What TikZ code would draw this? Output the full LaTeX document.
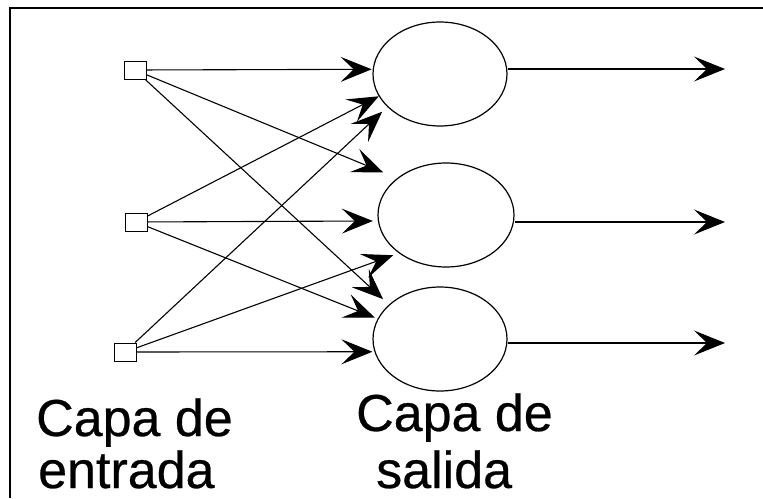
\documentclass[tikz,border=0pt]{standalone}
\usepackage{fontspec}
\setmainfont{Liberation Sans}
\newfontfamily\lblfont[FakeBold=0.5]{Liberation Sans}
\usetikzlibrary{arrows.meta,shapes.geometric}
\begin{document}
\begin{tikzpicture}[x=1pt,y=-1pt,
  neuron/.style={draw, ellipse, line width=1.2pt, minimum width=134pt, minimum height=104pt, inner sep=0pt},
  inbox/.style={draw, rectangle, line width=1pt, minimum width=22pt, minimum height=18pt, inner sep=0pt},
  conn/.style={line width=1.1pt, -{Stealth[length=31pt,width=25pt,inset=13pt]}},
  lbl/.style={font=\lblfont\fontsize{52}{52}\selectfont, anchor=base west, inner sep=0pt},
  framel/.style={line width=2.5pt}]
\useasboundingbox (0,0) rectangle (763,498);
\draw[framel] (10,498) -- (10,8) -- (763,8);
% input layer
\node[inbox] (s1) at (135,70) {};
\node[inbox] (s2) at (136,222) {};
\node[inbox] (s3) at (125,352) {};
% output layer
\node[neuron] (c1) at (440,74) {};
\node[neuron, minimum width=136pt] (c2) at (446,215) {};
\node[neuron] (c3) at (440,339) {};
% connections
\draw[conn, shorten >=1pt] (s1) -- (c1.176.6);
\draw[conn] (s2) -- (c1.200.2);
\draw[conn, shorten >=7pt] (s3) -- (c1.212.6);
\draw[conn, shorten >=15pt] (s1) -- (c2.143.6);
\draw[conn, shorten >=5pt] (s2) -- (c2.185.9);
\draw[conn, shorten >=6pt] (s3) -- (c2.219.3);
\draw[conn, shorten >=8pt] (s1) -- (c3.146.7);
\draw[conn, shorten >=3pt] (s2) -- (c3.162.3);
\draw[conn, shorten >=2pt] (s3) -- (c3.191.3);
% outputs
\coordinate (o1) at (725,69);
\coordinate (o2) at (725,222);
\coordinate (o3) at (725,343);
\draw[conn] (o1 -| c1.east) -- (o1);
\draw[conn] (o2 -| c2.east) -- (o2);
\draw[conn] (o3 -| c3.east) -- (o3);
% labels
\node[lbl] (l1) at (36,436) {Capa de};
\node[lbl] (l2) at (38,488) {entrada};
\node[lbl] (r1) at (356,431) {Capa de};
\node[lbl] (r2) at (376,488) {salida};
\end{tikzpicture}
\end{document}
